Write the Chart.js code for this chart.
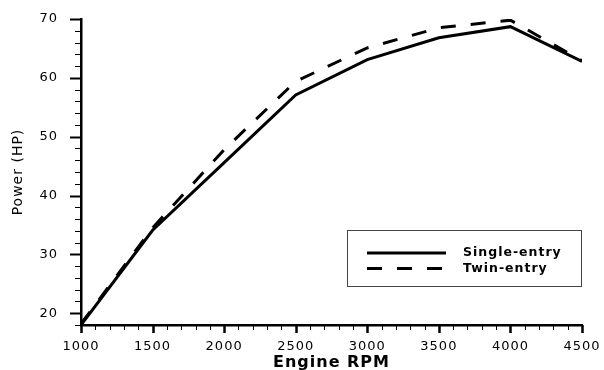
<!DOCTYPE html>
<html>
<head>
<meta charset="utf-8">
<script src="https://cdn.jsdelivr.net/npm/chart.js@4"></script>
<style>
  html, body { margin: 0; padding: 0; background: #fff; }
  #c { display: block; }
</style>
</head>
<body>
<canvas id="c" width="604" height="370"></canvas>
<script>
const rpm = [1000, 1500, 2000, 2500, 3000, 3500, 4000, 4500];
const singleEntry = [18.0, 34.1, 45.6, 57.1, 63.1, 66.8, 68.7, 62.8];
const twinEntry = [18.2, 34.5, 47.8, 59.4, 65.1, 68.5, 69.8, 62.9];
const xTickValues = [1000, 1500, 2000, 2500, 3000, 3500, 4000, 4500];
const yTickValues = [20, 30, 40, 50, 60, 70];
const seriesLabels = ['Single-entry', 'Twin-entry'];
const xTitle = 'Engine RPM';
const yTitle = 'Power (HP)';

const FONT = 'DejaVu Sans';

const spacingPlugin = {
  id: 'spacing',
  beforeDraw(chart) {
    if ('letterSpacing' in chart.ctx) chart.ctx.letterSpacing = '1px';
  }
};

const minorTicksPlugin = {
  id: 'minorTicks',
  afterDraw(chart) {
    const ctx = chart.ctx;
    const xs = chart.scales.x, ys = chart.scales.y;
    const ca = chart.chartArea;
    ctx.save();
    ctx.strokeStyle = '#000';
    for (let v = xs.min; v <= xs.max + 1e-6; v += 100) {
      const px = Math.round(xs.getPixelForValue(v)) + 0.5;
      const major = Math.abs(v % 500) < 1e-6;
      ctx.lineWidth = major ? 2.5 : 1;
      ctx.beginPath();
      ctx.moveTo(px, ca.bottom);
      ctx.lineTo(px, ca.bottom + (major ? 8 : 5));
      ctx.stroke();
    }
    for (let v = 18; v <= ys.max + 1e-6; v += 2) {
      const py = Math.round(ys.getPixelForValue(v)) + 0.5;
      const major = Math.abs(v % 10) < 1e-6;
      ctx.lineWidth = major ? 2 : 1;
      ctx.beginPath();
      ctx.moveTo(ca.left, py);
      ctx.lineTo(ca.left - (major ? 11 : 6), py);
      ctx.stroke();
    }
    ctx.restore();
  }
};

const boxLegendPlugin = {
  id: 'boxLegend',
  afterDraw(chart) {
    const ctx = chart.ctx;
    const ca = chart.chartArea;
    const bx = ca.right - 235, by = ca.bottom - 95, bw = 234, bh = 56;
    ctx.save();
    ctx.fillStyle = '#fff';
    ctx.fillRect(bx, by, bw, bh);
    ctx.strokeStyle = '#444';
    ctx.lineWidth = 1;
    ctx.strokeRect(bx + 0.5, by + 0.5, bw, bh);
    chart.data.datasets.forEach((ds, i) => {
      const y = by + 23 + i * 15.5;
      ctx.strokeStyle = ds.borderColor;
      ctx.lineWidth = ds.borderWidth;
      ctx.setLineDash(ds.borderDash || []);
      ctx.beginPath();
      ctx.moveTo(bx + 20, y);
      ctx.lineTo(bx + 99, y);
      ctx.stroke();
      ctx.setLineDash([]);
      ctx.fillStyle = '#000';
      ctx.font = 'bold 12.5px "' + FONT + '"';
      ctx.textBaseline = 'middle';
      ctx.textAlign = 'left';
      ctx.fillText(ds.label, bx + 116, y);
    });
    ctx.restore();
  }
};

new Chart(document.getElementById('c'), {
  type: 'line',
  data: {
    datasets: [
      {
        label: seriesLabels[0],
        data: rpm.map((x, i) => ({ x: x, y: singleEntry[i] })),
        borderColor: '#000',
        borderWidth: 3,
        pointRadius: 0,
        tension: 0,
        fill: false
      },
      {
        label: seriesLabels[1],
        data: rpm.map((x, i) => ({ x: x, y: twinEntry[i] })),
        borderColor: '#000',
        borderWidth: 3,
        borderDash: [15, 15],
        pointRadius: 0,
        tension: 0,
        fill: false
      }
    ]
  },
  options: {
    responsive: false,
    animation: false,
    devicePixelRatio: 1,
    layout: { padding: { top: 19, right: 22, left: 0, bottom: 0 } },
    plugins: {
      legend: { display: false },
      tooltip: { enabled: false }
    },
    scales: {
      x: {
        type: 'linear',
        min: 1000,
        max: 4500,
        afterBuildTicks: (s) => { s.ticks = xTickValues.map(v => ({ value: v })); },
        afterFit: (s) => { s.height = 45; s.paddingLeft = 0; s.paddingRight = 0; },
        grid: { display: false },
        border: { display: true, color: '#000', width: 2.5 },
        ticks: {
          color: '#000',
          font: { family: FONT, size: 13 },
          padding: 6,
          maxRotation: 0,
          autoSkip: false,
          callback: (v) => String(v)
        },
        title: {
          display: true,
          text: xTitle,
          color: '#000',
          font: { family: FONT, size: 16, weight: 'bold', lineHeight: 1 },
          padding: { top: 0, bottom: -1 }
        }
      },
      y: {
        type: 'linear',
        min: 18,
        max: 70,
        afterBuildTicks: (s) => { s.ticks = yTickValues.map(v => ({ value: v })); },
        afterFit: (s) => { s.width = 81; s.paddingTop = 0; s.paddingBottom = 0; },
        grid: { display: false },
        border: { display: true, color: '#000', width: 2.5 },
        ticks: {
          color: '#000',
          font: { family: FONT, size: 13 },
          padding: 15,
          callback: (v) => String(v)
        },
        title: {
          display: true,
          text: yTitle,
          color: '#000',
          font: { family: FONT, size: 14, lineHeight: 1.2 },
          padding: { top: 10, bottom: 0 }
        }
      }
    }
  },
  plugins: [spacingPlugin, minorTicksPlugin, boxLegendPlugin]
});
</script>
</body>
</html>
